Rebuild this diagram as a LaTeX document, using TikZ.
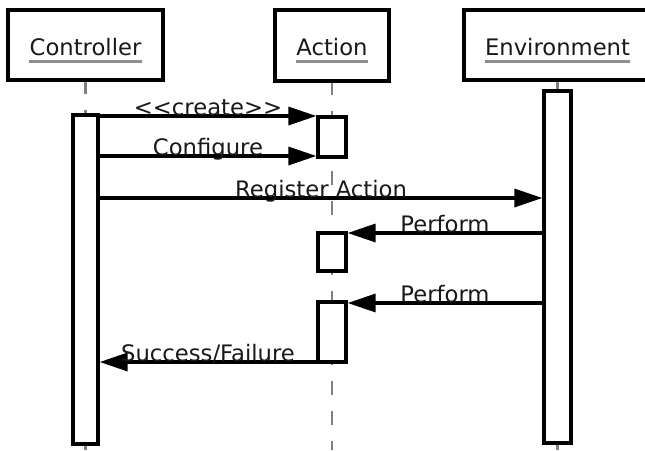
\documentclass[tikz,border=0pt]{standalone}
\usepackage{fontspec}
\setmainfont{DejaVu Sans}
\usetikzlibrary{arrows.meta}
\definecolor{lifegray}{HTML}{808080}
\tikzset{
  headbox/.style={draw=black, line width=3.8pt, fill=white, inner sep=0pt},
  headtext/.style={inner sep=0pt, anchor=base, font=\fontsize{22.7}{27}\selectfont, text=black!90},
  uline/.style={draw=lifegray!90, line width=3pt},
  lifeline/.style={draw=lifegray, line width=2.5pt, dash pattern=on 14pt off 16pt},
  actbox/.style={draw=black, line width=3.2pt, fill=white, inner sep=0pt},
  msg/.style={draw=black, line width=3.2pt, -{Triangle[length=28pt,width=18pt]}},
  msglabel/.style={inner sep=0pt, anchor=base, font=\fontsize{22.7}{27}\selectfont, text=black!90, yshift=1pt}
}
\begin{document}
\begin{tikzpicture}[x=1pt, y=-1pt]
\useasboundingbox (0,0) rectangle (645,450);
\clip (0,0) rectangle (645,450);

% lifelines (behind everything)
\draw[lifeline] (85.5,80) -- (85.5,450);
\draw[lifeline] (332,81) -- (332,450);
\draw[lifeline, dash pattern={}] (557.5,80) -- (557.5,450);

% head boxes
\node[headbox, minimum width=155pt, minimum height=70pt] (ctrl) at (85.5,45) {};
\node[headbox, minimum width=114pt, minimum height=71pt] (act) at (332,45.5) {};
\node[headbox, minimum width=187pt, minimum height=70pt] (env) at (557.5,45) {};

\node[headtext] (ctrlT) at (85.5,55) {Controller};
\node[headtext] (actT) at (332,55) {Action};
\node[headtext] (envT) at (557.5,55) {Environment};
\draw[uline] ([yshift=-6pt]ctrlT.base west) -- ([yshift=-6pt]ctrlT.base east);
\draw[uline] ([yshift=-6pt]actT.base west) -- ([yshift=-6pt]actT.base east);
\draw[uline] ([yshift=-6pt]envT.base west) -- ([yshift=-6pt]envT.base east);

% activations
\node[actbox, minimum width=25pt, minimum height=329pt] (cA) at (85.5,279.5) {};
\node[actbox, minimum width=27pt, minimum height=352pt] (eA) at (557.5,267) {};
\node[actbox, minimum width=28pt, minimum height=40pt] (a1) at (332,137) {};
\node[actbox, minimum width=28pt, minimum height=38pt] (a2) at (332,252) {};
\node[actbox, minimum width=28pt, minimum height=60pt] (a3) at (332,332) {};

% message heights
\coordinate (m1) at (0,116);
\coordinate (m2) at (0,156);
\coordinate (m3) at (0,198);
\coordinate (m4) at (0,233);
\coordinate (m5) at (0,303);
\coordinate (m6) at (0,362);

\draw[msg] (cA.east |- m1) -- (a1.west |- m1)
  node[msglabel, pos=0.5] (l1) {<\kern0pt<create>\kern0pt>};
\draw[msg] (cA.east |- m2) -- (a1.west |- m2)
  node[msglabel, pos=0.5] (l2) {Configure};
\draw[msg] (cA.east |- m3) -- (eA.west |- m3)
  node[msglabel, pos=0.5] (l3) {Register Action};
\draw[msg] (eA.west |- m4) -- (a2.east |- m4)
  node[msglabel, pos=0.5] (l4) {Perform};
\draw[msg] (eA.west |- m5) -- (a3.east |- m5)
  node[msglabel, pos=0.5] (l5) {Perform};
\draw[msg] (a3.west |- m6) -- (cA.east |- m6)
  node[msglabel, pos=0.5] (l6) {Success/Failure};
\end{tikzpicture}
\end{document}
